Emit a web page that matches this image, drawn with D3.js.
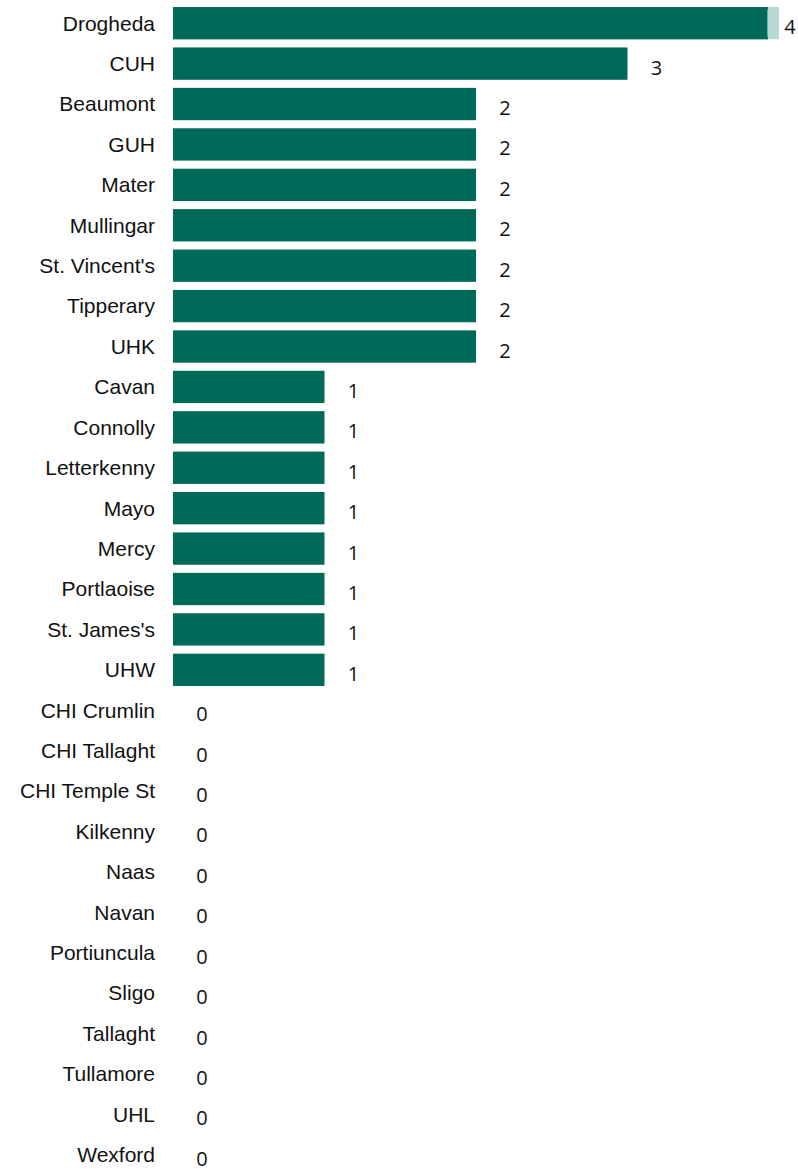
<!DOCTYPE html>
<html>
<head>
<meta charset="utf-8">
<script src="https://cdn.jsdelivr.net/npm/d3@7"></script>
<style>
body{margin:0;background:#fff;}
</style>
</head>
<body>
<main></main>
<script>
const hospitals = ["Drogheda","CUH","Beaumont","GUH","Mater","Mullingar","St. Vincent's","Tipperary","UHK",
  "Cavan","Connolly","Letterkenny","Mayo","Mercy","Portlaoise","St. James's","UHW",
  "CHI Crumlin","CHI Tallaght","CHI Temple St","Kilkenny","Naas","Navan","Portiuncula","Sligo","Tallaght","Tullamore","UHL","Wexford"];
const counts = [4,3,2,2,2,2,2,2,2,1,1,1,1,1,1,1,1,0,0,0,0,0,0,0,0,0,0,0,0];
// light end piece seen on the top bar
const highlight = [0.07,0,0,0,0,0,0,0,0,0,0,0,0,0,0,0,0,0,0,0,0,0,0,0,0,0,0,0,0];

drawChart();

function drawChart(){
    var width = 798;
    var height = 1169;
    var svg = d3.select("main")
    .append("svg")
    .attr("width", width)
    .attr("height", height)

    const xScale = d3.scaleLinear()
    .domain([0,4])
    .range([173,779])

    const yScale = d3.scaleBand()
    .domain(hospitals)
    .range([3,1175])
    .paddingInner(0.2)
    .paddingOuter(0.1)

    svg.selectAll(".bar")
    .data(hospitals)
    .enter()
    .append("rect")
    .attr("class","bar")
    .attr("x", xScale(0))
    .attr("y", d => yScale(d))
    .attr("width", (d,i) => xScale(counts[i]-highlight[i]) - xScale(0))
    .attr("height", yScale.bandwidth())
    .style("fill","#006A59")

    svg.selectAll(".hl")
    .data(hospitals.filter((d,i) => highlight[i] > 0))
    .enter()
    .append("path")
    .attr("class","hl")
    .attr("d", d => {
        var i = hospitals.indexOf(d);
        var x0 = xScale(counts[i]-highlight[i]) - 1, x1 = xScale(counts[i]);
        var y0 = yScale(d), y1 = y0 + yScale.bandwidth(), r = 4;
        return `M${x0+r},${y0}L${x1},${y0}L${x1},${y1}L${x0+r},${y1}Q${x0},${y1} ${x0},${y1-r}L${x0},${y0+r}Q${x0},${y0} ${x0+r},${y0}Z`;
    })
    .style("fill","#B7D9D1")

    svg.selectAll(".cat")
    .data(hospitals)
    .enter()
    .append("text")
    .attr("class","cat")
    .attr("x", 155)
    .attr("y", d => yScale(d) + yScale.bandwidth()/2)
    .attr("dy","0.35em")
    .attr("text-anchor","end")
    .style("font-family","'Liberation Sans'")
    .style("font-size","21px")
    .style("fill","#111")
    .text(d => d)

    svg.selectAll(".val")
    .data(hospitals)
    .enter()
    .append("text")
    .attr("class","val")
    .attr("x", (d,i) => Math.min(xScale(counts[i]) + 29, 790))
    .attr("y", d => yScale(d) + yScale.bandwidth()/2 + 4)
    .attr("dy","0.35em")
    .attr("text-anchor","middle")
    .style("font-family","'Open Sans', 'Noto Sans', sans-serif")
    .style("font-size","20px")
    .style("fill","#111")
    .text((d,i) => counts[i])
}
</script>
</body>
</html>
